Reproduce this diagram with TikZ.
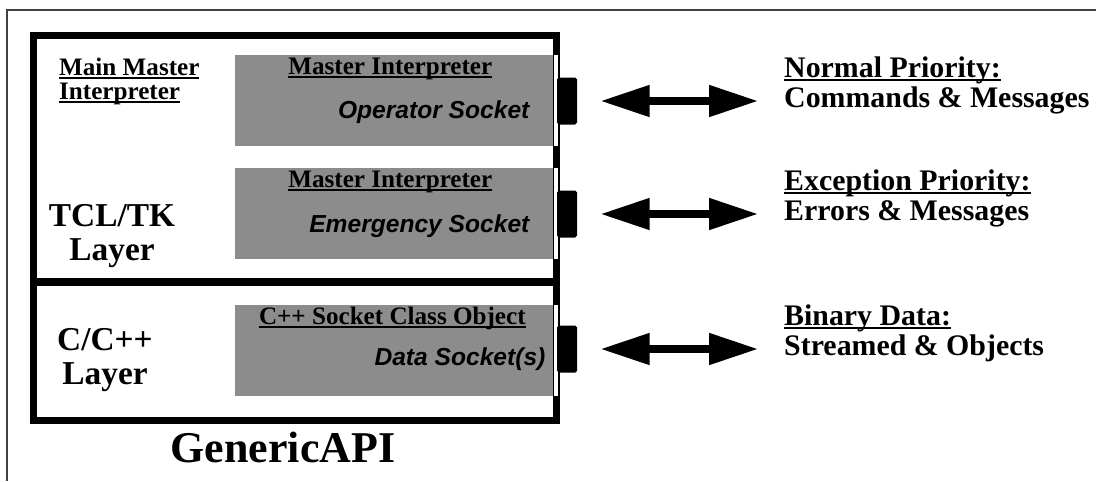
\documentclass[tikz,border=0pt]{standalone}
\usepackage{fontspec}
\setmainfont{Liberation Serif}
\newfontfamily\sockfont{Liberation Sans}
\usetikzlibrary{arrows.meta,calc}
\definecolor{sockgrey}{gray}{0.55}
\newcommand{\ulbox}[1]{\setbox0\hbox{#1}\rlap{\rule[-2pt]{\wd0}{0.9pt}}\box0}
\begin{document}
\begin{tikzpicture}[x=0.02cm,y=-0.02cm,
	layerbox/.style={draw,line width=4pt,anchor=north west,inner sep=0pt,minimum width=10.46cm,minimum height=7.7cm},
	sockbox/.style={fill=sockgrey,anchor=north west,inner sep=0pt,minimum width=6.36cm,minimum height=1.81cm},
	socktab/.style={fill=black,inner sep=0pt,minimum width=0.4cm,minimum height=0.94cm,rounded corners=1pt},
	socktitle/.style={anchor=base,font=\fontsize{14.3}{16}\selectfont\bfseries},
	sockname/.style={anchor=base east,font=\sockfont\fontsize{14}{16}\selectfont\bfseries\itshape},
	layername/.style={anchor=base,font=\fontsize{19}{22}\selectfont\bfseries},
	msg/.style={anchor=base west,font=\fontsize{17}{18}\selectfont\bfseries},
	dblarrow/.style={{Triangle[length=28pt,width=17pt]}-{Triangle[length=28pt,width=17pt]},line width=4.5pt},
	pageframe/.style={draw=black!75,line width=0.8pt}]
	\useasboundingbox(0,0)rectangle(1096,481);
	\draw[pageframe](7,481)--(7,10)--(1096,10);
	% api box with the two layers
	\node[layerbox](api)at(30,32){};
	\coordinate(split)at(30,282);
	\draw[line width=4pt](split)--(split-|api.east);
	% sockets
	\node[sockbox](sock1)at(235,55){};
	\node[sockbox](sock2)at(235,168){};
	\node[sockbox](sock3)at(235,305){};
	\foreach \s in {sock1,sock2,sock3}
		\fill[white](\s.north east)rectangle($(\s.south east)+(4,0)$);
	\node[socktab](tab1)at(567,101){};
	\node[socktab](tab2)at(567,214){};
	\node[socktab](tab3)at(567,349){};
	\node[socktitle](title1)at($(sock1.north)+(-4,19)$){\ulbox{Master Interpreter}};
	\node[socktitle](title2)at($(sock2.north)+(-4,19)$){\ulbox{Master Interpreter}};
	\node[socktitle](title3)at($(sock3.north)+(-2,19)$){\ulbox{C++ Socket Class Object}};
	\node[sockname](name1)at($(sock1.north east)+(-18,63)$){Operator Socket};
	\node[sockname](name2)at($(sock2.north east)+(-18,64)$){Emergency Socket};
	\node[sockname](name3)at($(sock3.north east)+(-2,60)$){Data Socket(s)};
	% layer names
	\node[anchor=base west,font=\fontsize{14.3}{16}\selectfont\bfseries](main1)at(53,75){\ulbox{Main Master}};
	\node[anchor=base west,font=\fontsize{14.3}{16}\selectfont\bfseries](main2)at(53,99){\ulbox{Interpreter}};
	\node[layername](tcl1)at(112,226){TCL/TK};
	\node[layername](tcl2)at(112,260){Layer};
	\node[layername](cpp1)at(105,350){C/C++};
	\node[layername](cpp2)at(105,384){Layer};
	\node[anchor=base,font=\fontsize{25}{28}\selectfont\bfseries](api-name)at(283,462){GenericAPI};
	% channels
	\node[msg](msg1a)at(778,77){\ulbox{Normal Priority:}};
	\node[msg](msg1b)at(778,107){Commands \& Messages};
	\node[msg](msg2a)at(778,190){\ulbox{Exception Priority:}};
	\node[msg](msg2b)at(778,220){Errors \& Messages};
	\node[msg](msg3a)at(778,325){\ulbox{Binary Data:}};
	\node[msg](msg3b)at(778,355){Streamed \& Objects};
	\draw[dblarrow]($(tab1.east)+(23,0)$)--($(tab1.east)+(181,0)$);
	\draw[dblarrow]($(tab2.east)+(23,0)$)--($(tab2.east)+(181,0)$);
	\draw[dblarrow]($(tab3.east)+(23,0)$)--($(tab3.east)+(181,0)$);
\end{tikzpicture}
\end{document}
